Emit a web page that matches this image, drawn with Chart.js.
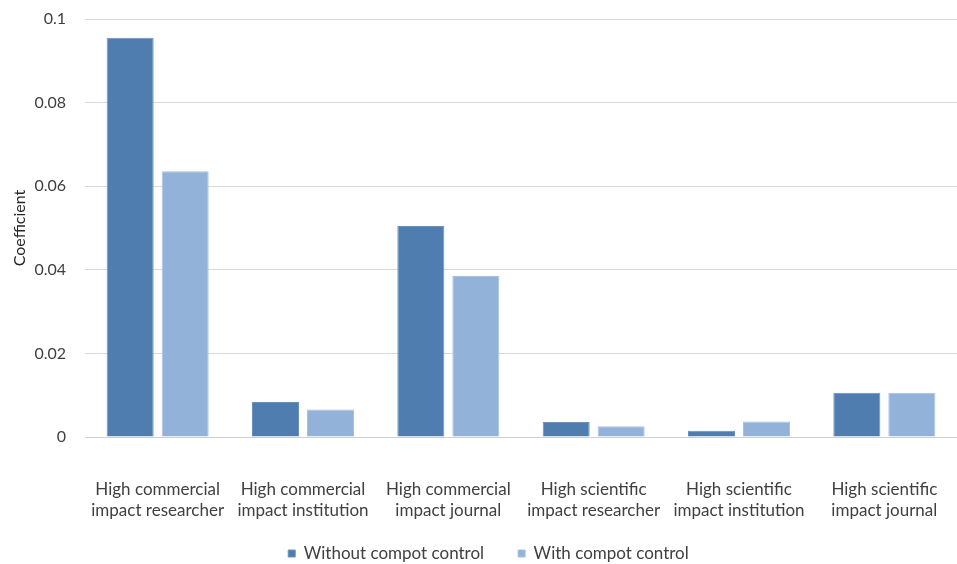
<!DOCTYPE html>
<html>
<head>
<meta charset="utf-8">
<script src="https://cdn.jsdelivr.net/npm/chart.js@4/dist/chart.umd.min.js"></script>
<style>
html,body{margin:0;padding:0;background:#fff;}
#wrap{width:957px;height:564px;}
</style>
</head>
<body>
<div id="wrap"><canvas id="c" width="957" height="564"></canvas></div>
<script>
const categories = [
  ["High commercial","impact researcher"],
  ["High commercial","impact institution"],
  ["High commercial","impact journal"],
  ["High scientific","impact researcher"],
  ["High scientific","impact institution"],
  ["High scientific","impact journal"]
];
const seriesNames = ["Without compot control","With compot control"];
const withoutControl = [0.0955, 0.0084, 0.0505, 0.0036, 0.0015, 0.0106];
const withControl = [0.0636, 0.0066, 0.0385, 0.0026, 0.0037, 0.0106];
const tickValues = [0, 0.02, 0.04, 0.06, 0.08, 0.1];
const tickLabels = ["0", "0.02", "0.04", "0.06", "0.08", "0.1"];

const FONT = "Lato, 'Open Sans', sans-serif";
const LEGEND_PAD = 34;

const legendFitPlugin = {
  id: 'legendFit',
  afterInit(chart) {
    const lg = chart.legend;
    if (!lg) return;
    const orig = lg.fit.bind(lg);
    lg.fit = function () { orig(); this.height = 24; };
  },
  beforeDraw(chart) {
    const lg = chart.legend;
    if (!lg) return;
    lg.top = 540 - LEGEND_PAD + 5;
    lg.bottom = chart.height;
    lg.height = lg.bottom - lg.top;
    lg.left = 10;
    lg.right = chart.width + 10;
  }
};

new Chart(document.getElementById('c'), {
  type: 'bar',
  data: {
    labels: categories,
    datasets: [
      {label: seriesNames[0], data: withoutControl, backgroundColor: '#4f7db0', borderColor: '#6a91bd', borderWidth: 1,
       categoryPercentage: 0.757, barPercentage: 0.855},
      {label: seriesNames[1], data: withControl, backgroundColor: '#93b2d9', borderColor: '#a6c0e0', borderWidth: 1,
       categoryPercentage: 0.757, barPercentage: 0.855}
    ]
  },
  plugins: [legendFitPlugin],
  options: {
    responsive: false,
    animation: false,
    devicePixelRatio: 1,
    layout: {padding: 0},
    plugins: {
      legend: {
        position: 'bottom',
        labels: {font: {family: FONT, size: 17}, color: '#404040', boxWidth: 7, boxHeight: 7, padding: LEGEND_PAD}
      },
      tooltip: {enabled: false}
    },
    scales: {
      x: {
        afterFit: (axis) => { axis.height = 103; axis.paddingLeft = 0; axis.paddingRight = 0; },
        grid: {display: false, drawTicks: false},
        border: {display: true, color: '#d0d0d0', width: 1},
        ticks: {font: {family: FONT, size: 17, lineHeight: 1.25}, color: '#404040', padding: 42, maxRotation: 0, autoSkip: false}
      },
      y: {
        min: 0, max: 0.1,
        afterBuildTicks: (axis) => { axis.ticks = tickValues.map(v => ({value: v})); },
        afterFit: (axis) => { axis.width = 85; axis.paddingTop = 19; axis.paddingBottom = 0; },
        grid: {color: '#d9d9d9', lineWidth: 1, drawTicks: false},
        border: {display: false},
        ticks: {
          font: {family: FONT, size: 16}, color: '#404040', padding: 19,
          callback: (v) => { const i = tickValues.indexOf(v); return i >= 0 ? tickLabels[i] : ''; }
        },
        title: {display: true, text: 'Coefficient', font: {family: FONT, size: 16}, color: '#262626', padding: {top: 10, bottom: 0}}
      }
    }
  }
});
</script>
</body>
</html>
